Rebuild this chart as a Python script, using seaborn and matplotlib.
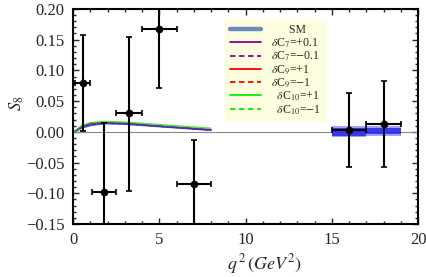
import numpy as np
import pandas as pd
import matplotlib
matplotlib.use("Agg")
import matplotlib.pyplot as plt
import seaborn as sns
from matplotlib.lines import Line2D
from matplotlib.ticker import MultipleLocator

# datos experimentales (centro del bin, valor, limites del bin, errores)
exp_q2 = [0.55, 1.8, 3.25, 5.0, 7.0, 16.0, 18.0]
exp_s8 = [0.079, -0.098, 0.030, 0.167, -0.085, 0.003, 0.013]
exp_lo = [0.1, 1.1, 2.5, 4.0, 6.0, 15.0, 17.0]
exp_hi = [0.98, 2.5, 4.0, 6.0, 8.0, 17.0, 19.0]
exp_err_up = [0.078, 0.113, 0.125, 0.075, 0.072, 0.060, 0.070]
exp_err_dn = [0.078, 0.113, 0.126, 0.095, 0.072, 0.060, 0.070]

# curvas teoricas a bajo q2
q2 = [0.1, 0.5, 1.0, 1.8, 3.0, 4.0, 5.0, 6.0, 7.0, 8.0]
sm_lo = [0.000, 0.006, 0.010, 0.013, 0.012, 0.010, 0.008, 0.006, 0.004, 0.002]
sm_hi = [0.002, 0.010, 0.014, 0.016, 0.015, 0.013, 0.011, 0.009, 0.007, 0.005]
c7_plus = [0.001, 0.009, 0.013, 0.015, 0.014, 0.012, 0.009, 0.007, 0.005, 0.003]
c7_minus = [0.001, 0.007, 0.011, 0.014, 0.013, 0.011, 0.009, 0.007, 0.005, 0.003]
c9_plus = [0.001, 0.009, 0.014, 0.015, 0.014, 0.012, 0.010, 0.008, 0.006, 0.004]
c9_minus = [0.001, 0.008, 0.012, 0.014, 0.013, 0.011, 0.009, 0.007, 0.005, 0.003]
c10_plus = [0.001, 0.010, 0.015, 0.017, 0.016, 0.014, 0.012, 0.010, 0.008, 0.006]
c10_minus = [0.001, 0.008, 0.012, 0.014, 0.013, 0.011, 0.009, 0.007, 0.005, 0.003]

# bandas SM a alto q2
hi_bins_lo = [15.0, 17.0]
hi_bins_hi = [17.0, 19.0]
hi_band_lo = [-0.006, -0.004]
hi_band_hi = [0.006, 0.006]

sns.set_theme(style="ticks")
plt.rcParams['font.family'] = ['Liberation Serif', 'DejaVu Serif']
plt.rcParams['mathtext.fontset'] = 'stix'

fig = plt.figure(figsize=(4.27, 2.77), dpi=100)
ax = fig.add_axes([0.171, 0.191, 0.808, 0.777])

ax.axhline(0, color='#888888', lw=0.8, zorder=1)

curvas = pd.DataFrame({
    'q2': q2 * 6,
    'S8': c7_plus + c7_minus + c9_plus + c9_minus + c10_plus + c10_minus,
    'caso': (['c7p'] * 10 + ['c7m'] * 10 + ['c9p'] * 10 + ['c9m'] * 10
             + ['c10p'] * 10 + ['c10m'] * 10),
})
paleta = {'c7p': '#8b008b', 'c7m': '#8b008b', 'c9p': '#ff0000', 'c9m': '#ff0000',
          'c10p': '#00ee00', 'c10m': '#00ee00'}
estilos = {'c7p': '', 'c7m': (3, 2), 'c9p': '', 'c9m': (3, 2),
           'c10p': '', 'c10m': (3, 2)}
sns.lineplot(data=curvas, x='q2', y='S8', hue='caso', style='caso', palette=paleta,
             dashes=estilos, lw=0.9, alpha=0.8, legend=False, ax=ax, zorder=2)

# banda SM
ax.fill_between(q2, sm_lo, sm_hi, color='#2a2ad8', alpha=0.8, lw=0, zorder=3)
for a, b, lo, hi in zip(hi_bins_lo, hi_bins_hi, hi_band_lo, hi_band_hi):
    ax.fill_between([a, b], [lo - 0.003] * 2, [hi + 0.003] * 2,
                    color='#6060ff', alpha=0.6, lw=0, zorder=2)
    ax.fill_between([a, b], [lo] * 2, [hi] * 2, color='#2020e0', alpha=0.8, lw=0, zorder=2)

# puntos experimentales
xerr = [np.array(exp_q2) - np.array(exp_lo), np.array(exp_hi) - np.array(exp_q2)]
ax.errorbar(exp_q2, exp_s8, xerr=xerr, yerr=[exp_err_dn, exp_err_up], fmt='o',
            color='black', ms=4.5, lw=1.5, capsize=2.5, capthick=1.2, zorder=5)

ax.set_xlim(0, 20)
ax.set_ylim(-0.15, 0.20)
ax.xaxis.set_major_locator(MultipleLocator(5))
ax.xaxis.set_minor_locator(MultipleLocator(1))
ax.yaxis.set_major_locator(MultipleLocator(0.05))
ax.yaxis.set_minor_locator(MultipleLocator(0.01))
ax.tick_params(which='both', direction='in', top=True, right=True, labelsize=12, pad=6)
ax.tick_params(which='major', length=4, width=1)
ax.tick_params(which='minor', length=2, width=1)
ax.set_yticklabels([f"{v:.2f}".replace('-', '\u2212') for v in ax.get_yticks()])
ax.set_xticklabels([f"{int(v)}" for v in ax.get_xticks()])
for s in ax.spines.values():
    s.set_linewidth(1.5)
    s.set_color('black')

ax.set_ylabel(r'$S_8$', fontsize=12)
ax.yaxis.set_label_coords(-0.135, 0.56)
ax.set_xlabel(r'$q^{\,2}\,(GeV^2)$', fontsize=13)
ax.xaxis.set_label_coords(0.555, -0.13)

handles = [
    Line2D([], [], color='#6a8cc0', lw=3.2),
    Line2D([], [], color='#8b008b', lw=1.3),
    Line2D([], [], color='#8b008b', lw=1.3, dashes=(3, 2)),
    Line2D([], [], color='#ff0000', lw=1.3),
    Line2D([], [], color='#ff0000', lw=1.3, dashes=(3, 2)),
    Line2D([], [], color='#00ee00', lw=1.3),
    Line2D([], [], color='#00ee00', lw=1.3, dashes=(3, 2)),
]
labels = ['      SM', r'$\delta$C$_7$=+0.1', r'$\delta$C$_7$=$-$0.1', r'$\delta$C$_9$=+1',
          r'$\delta$C$_9$=$-$1', r'  $\delta$C$_{10}$=+1', r'  $\delta$C$_{10}$=$-$1']
leg = ax.legend(handles, labels, loc='upper left', bbox_to_anchor=(0.44, 0.955),
                borderaxespad=0, fontsize=8.5, frameon=True, fancybox=False,
                borderpad=0.45, handlelength=2.6, labelspacing=0.02, handletextpad=0.9)
leg.get_frame().set_facecolor('#fdfde0')
leg.get_frame().set_edgecolor('none')
leg.get_frame().set_alpha(1)

fig.savefig('out.png', dpi=100)
